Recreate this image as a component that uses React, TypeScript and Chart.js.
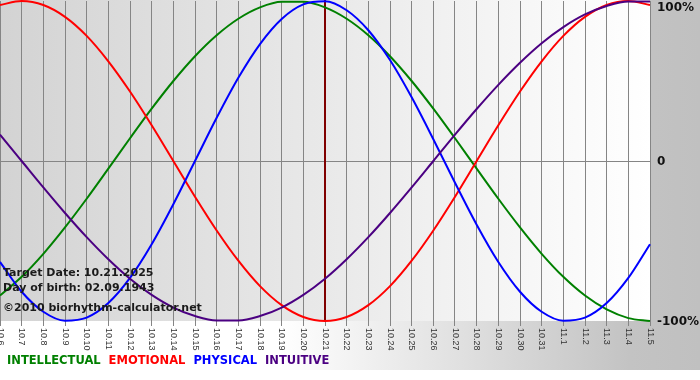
import React, { useEffect, useRef } from "react";
import { Chart, registerables } from "chart.js";

Chart.register(...registerables);

const dayLabels = [
  "10.6", "10.7", "10.8", "10.9", "10.10", "10.11", "10.12", "10.13", "10.14", "10.15",
  "10.16", "10.17", "10.18", "10.19", "10.20", "10.21", "10.22", "10.23", "10.24", "10.25",
  "10.26", "10.27", "10.28", "10.29", "10.30", "10.31", "11.1", "11.2", "11.3", "11.4", "11.5",
];

const intellectual = [
  -0.841, -0.724, -0.58, -0.415, -0.236, -0.048, 0.142, 0.327, 0.5, 0.655,
  0.786, 0.889, 0.96, 0.995, 0.995, 0.96, 0.889, 0.786, 0.655, 0.5,
  0.327, 0.142, -0.048, -0.236, -0.415, -0.58, -0.724, -0.841, -0.928, -0.982, -1,
];

const emotional = [
  0.975, 1, 0.975, 0.901, 0.782, 0.623, 0.434, 0.223, 0, -0.223,
  -0.434, -0.623, -0.782, -0.901, -0.975, -1, -0.975, -0.901, -0.782, -0.623,
  -0.434, -0.223, 0, 0.223, 0.434, 0.623, 0.782, 0.901, 0.975, 1, 0.975,
];

const physical = [
  -0.631, -0.817, -0.942, -0.998, -0.979, -0.888, -0.731, -0.52, -0.27, 0,
  0.27, 0.52, 0.731, 0.888, 0.979, 0.998, 0.942, 0.817, 0.631, 0.398,
  0.136, -0.136, -0.398, -0.631, -0.817, -0.942, -0.998, -0.979, -0.888, -0.731, -0.52,
];

const intuitive = [
  0.165, 0, -0.165, -0.325, -0.476, -0.614, -0.736, -0.837, -0.916, -0.969,
  -0.997, -0.997, -0.969, -0.916, -0.837, -0.736, -0.614, -0.476, -0.325, -0.165,
  0, 0.165, 0.325, 0.476, 0.614, 0.736, 0.837, 0.916, 0.969, 0.997, 0.997,
];

const axisTickValues = [1, 0, -1];
const axisTickLabels = ["100%", "0", "-100%"];

const seriesNames = ["INTELLECTUAL", "EMOTIONAL", "PHYSICAL", "INTUITIVE"];
const seriesColors = ["#008000", "#ff0000", "#0000ff", "#4b0082"];

const targetDateLabel = "10.21";
const infoLines = [
  "Target Date: 10.21.2025",
  "Day of birth: 02.09.1943",
  "\u00a92010 biorhythm-calculator.net",
];

const overlayPlugin = {
  id: "biorhythmOverlay",
  beforeDraw(chart: any) {
    const { ctx, width, height, chartArea } = chart;
    ctx.save();
    ctx.fillStyle = "#ffffff";
    ctx.fillRect(0, 0, width, height);
    const bg = ctx.createLinearGradient(0, 0, width, 0);
    bg.addColorStop(0, "#ffffff");
    bg.addColorStop(0.4, "#ffffff");
    bg.addColorStop(0.9, "#c3c3c3");
    bg.addColorStop(1, "#c0c0c0");
    ctx.fillStyle = bg;
    ctx.fillRect(0, 0, width, 370);
    const pg = ctx.createLinearGradient(chartArea.left, 0, chartArea.right, 0);
    pg.addColorStop(0, "#d3d3d3");
    pg.addColorStop(1, "#ffffff");
    ctx.fillStyle = pg;
    ctx.fillRect(chartArea.left, 0, chartArea.right - chartArea.left, chartArea.bottom);
    ctx.restore();
  },
  beforeDatasetsDraw(chart: any) {
    const { ctx, chartArea, scales } = chart;
    const x = scales.x.getPixelForValue(dayLabels.indexOf(targetDateLabel));
    ctx.save();
    ctx.strokeStyle = "#800000";
    ctx.lineWidth = 2;
    ctx.beginPath();
    ctx.moveTo(x, 0);
    ctx.lineTo(x, chartArea.bottom);
    ctx.stroke();
    ctx.restore();
  },
  afterDraw(chart: any) {
    const { ctx, chartArea, scales } = chart;
    ctx.save();
    // x tick labels (rotated, reading top to bottom)
    ctx.fillStyle = "#333333";
    ctx.font = '9px "Liberation Sans"';
    ctx.textAlign = "left";
    ctx.textBaseline = "middle";
    dayLabels.forEach((lab, i) => {
      const x = scales.x.getPixelForValue(i);
      ctx.save();
      ctx.translate(x, chartArea.bottom + 7);
      ctx.rotate(Math.PI / 2);
      ctx.fillText(lab, 0, 0);
      ctx.restore();
    });
    // right axis labels
    ctx.fillStyle = "#111111";
    ctx.font = 'bold 12px "DejaVu Sans"';
    ctx.textBaseline = "middle";
    axisTickValues.forEach((v, i) => {
      const y = Math.max(scales.y.getPixelForValue(v), 7);
      ctx.fillText(axisTickLabels[i], chartArea.right + 7, y + 1);
    });
    // info text
    ctx.font = 'bold 11px "DejaVu Sans"';
    ctx.fillStyle = "#1a1a1a";
    ctx.textBaseline = "alphabetic";
    const baselines = [276, 291, 311];
    infoLines.forEach((t, i) => ctx.fillText(t, 3, baselines[i]));
    // legend
    ctx.font = 'bold 11.5px "DejaVu Sans"';
    ctx.textBaseline = "middle";
    let lx = 7;
    seriesNames.forEach((name, i) => {
      ctx.fillStyle = seriesColors[i];
      ctx.fillText(name, lx, 361);
      lx += ctx.measureText(name).width + 8;
    });
    ctx.restore();
  },
};

export default function App() {
  const canvasRef = useRef<HTMLCanvasElement | null>(null);

  useEffect(() => {
    const canvas = canvasRef.current;
    if (!canvas) return;
    const mk = (label: string, data: number[], color: string, order: number) => ({
      label,
      data,
      borderColor: color,
      backgroundColor: color,
      borderWidth: 2,
      pointRadius: 0,
      cubicInterpolationMode: "monotone" as const,
      fill: false,
      order,
      clip: 4,
    });
    const chart = new Chart(canvas, {
      type: "line",
      data: {
        labels: dayLabels,
        datasets: [
          mk(seriesNames[0], intellectual, seriesColors[0], 3),
          mk(seriesNames[1], emotional, seriesColors[1], 2),
          mk(seriesNames[2], physical, seriesColors[2], 1),
          mk(seriesNames[3], intuitive, seriesColors[3], 0),
        ],
      },
      options: {
        responsive: false,
        animation: false,
        devicePixelRatio: 1,
        layout: { padding: { top: 1, left: 0, right: 0, bottom: 0 } },
        plugins: {
          legend: { display: false },
          tooltip: { enabled: false },
          title: { display: false },
        },
        scales: {
          x: {
            type: "category",
            offset: false,
            ticks: { display: false },
            border: { display: false },
            grid: {
              display: true,
              color: "#858585",
              lineWidth: 1,
              drawTicks: true,
              tickLength: 5,
              offset: false,
            },
            afterFit(scale: any) {
              scale.height = 59;
            },
          },
          y: {
            position: "right",
            min: -1,
            max: 1,
            ticks: { display: false, stepSize: 1 },
            border: { display: false },
            grid: {
              drawTicks: false,
              color: (c: any) => (c.tick && c.tick.value === 0 ? "#858585" : "rgba(0,0,0,0)"),
              lineWidth: 1,
            },
            afterFit(scale: any) {
              scale.width = 50;
            },
          },
        },
      },
      plugins: [overlayPlugin],
    });
    return () => chart.destroy();
  }, []);

  return (
    <div style={{ position: "absolute", left: 0, top: 0, width: 700, height: 380 }}>
      <canvas ref={canvasRef} width={700} height={380} style={{ width: 700, height: 380, display: "block" }} />
    </div>
  );
}
